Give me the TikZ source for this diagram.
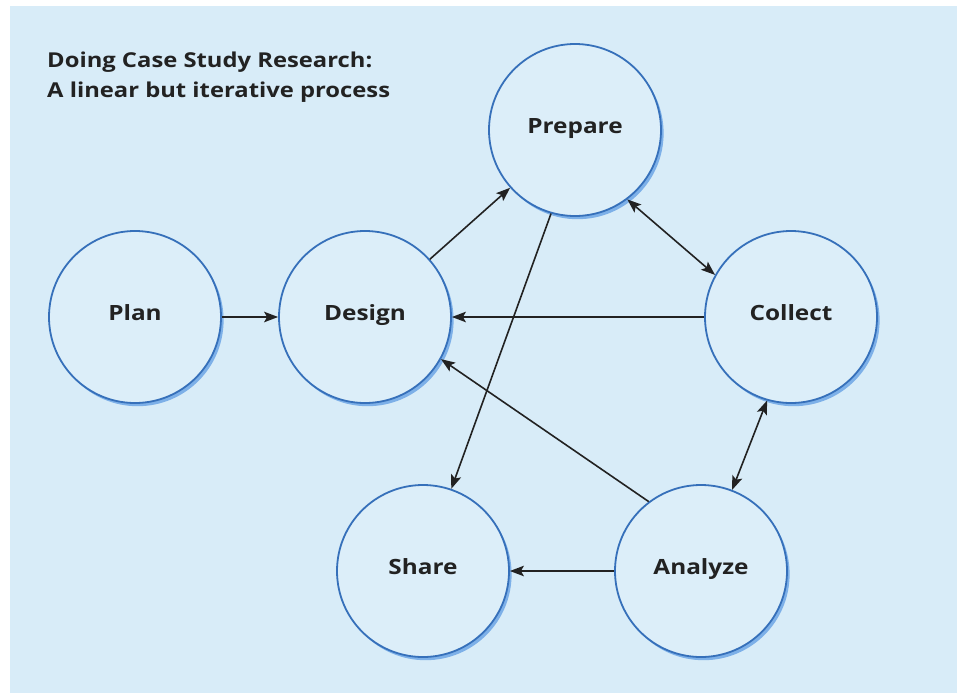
\documentclass[tikz,border=0pt]{standalone}
\usepackage{fontspec}
\setmainfont{Open Sans}
\newfontfamily\widesans[FakeStretch=1.16]{Open Sans}
\usetikzlibrary{arrows.meta,shadows}
\definecolor{bgblue}{HTML}{D8ECF8}
\definecolor{cfill}{HTML}{DCEEF9}
\definecolor{cstroke}{HTML}{3670BA}
\definecolor{cshadow}{HTML}{7DB0E8}
\definecolor{ink}{HTML}{222222}
\begin{document}
\begin{tikzpicture}[x=1pt,y=-1pt,
  stage/.style={circle, minimum size=172pt, inner sep=0pt, draw=cstroke,
    line width=1.8pt, fill=cfill, text=ink, font=\widesans\bfseries\fontsize{21}{24}\selectfont,
    text height=0.72em, text depth=0pt,
    drop shadow={shadow xshift=2.6pt, shadow yshift=-3.2pt, fill=cshadow, opacity=1}},
  conn/.style={draw=ink, line width=1.6pt,
    -{Stealth[length=14pt, width=10.5pt, inset=3pt]}},
  conn2/.style={draw=ink, line width=1.6pt,
    {Stealth[length=14pt, width=10.5pt, inset=3pt]}-{Stealth[length=14pt, width=10.5pt, inset=3pt]}},
  titletext/.style={anchor=base west, inner sep=0pt, text=ink, font=\widesans\bfseries\fontsize{20.5}{24}\selectfont}
]
\useasboundingbox (0,0) rectangle (957,693);
\fill[white] (0,0) rectangle (957,693);
\fill[bgblue] (10,6) rectangle (957,693);

\node[titletext] (t1) at (47,67) {Doing Case Study Research:};
\node[titletext] (t2) at (47,97) {A linear but iterative process};

\node[stage] (plan) at (135,317) {Plan};
\node[stage] (design) at (365,317) {Design};
\node[stage] (prepare) at (575,130) {Prepare};
\node[stage] (collect) at (791,317) {Collect};
\node[stage] (share) at (423,571) {Share};
\node[stage] (analyze) at (701,571) {Analyze};

\draw[conn] (plan.east) -- (design.west);
\draw[conn] (design) -- (prepare);
\draw[conn2] (prepare.-53) -- (collect.151);
\draw[conn] (collect.west) -- (design.east);
\draw[conn] (prepare.-106) -- (share.71);
\draw[conn] (analyze.127) -- (design.-29);
\draw[conn2] (collect.-106) -- (analyze.69);
\draw[conn] (analyze.west) -- (share.east);
\end{tikzpicture}
\end{document}
